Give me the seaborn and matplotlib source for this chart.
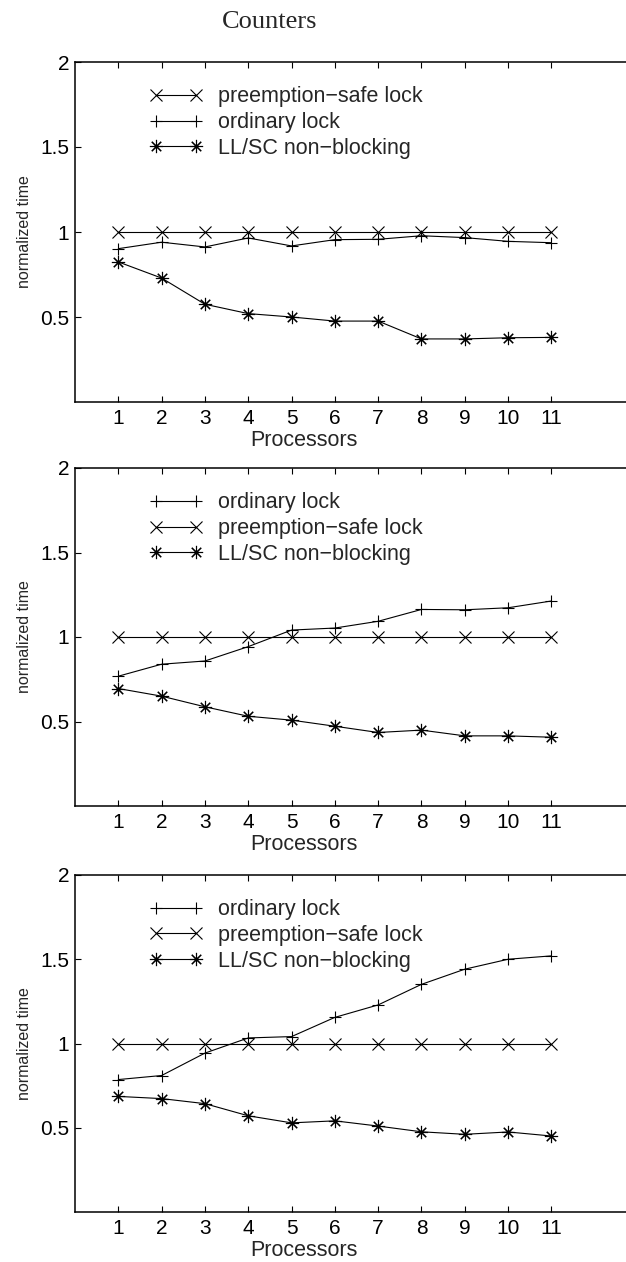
import matplotlib
matplotlib.use("Agg")
import matplotlib.pyplot as plt
import seaborn as sns

processors = [1, 2, 3, 4, 5, 6, 7, 8, 9, 10, 11]

# Panel 1
p1_preempt = [1.0, 1.0, 1.0, 1.0, 1.0, 1.0, 1.0, 1.0, 1.0, 1.0, 1.0]
p1_ordinary = [0.902, 0.940, 0.912, 0.965, 0.918, 0.955, 0.957, 0.978, 0.967, 0.945, 0.937]
p1_llsc = [0.824, 0.729, 0.575, 0.520, 0.500, 0.476, 0.476, 0.371, 0.371, 0.378, 0.380]

# Panel 2
p2_ordinary = [0.768, 0.839, 0.858, 0.943, 1.041, 1.053, 1.093, 1.163, 1.161, 1.173, 1.213]
p2_preempt = [1.0, 1.0, 1.0, 1.0, 1.0, 1.0, 1.0, 1.0, 1.0, 1.0, 1.0]
p2_llsc = [0.695, 0.650, 0.587, 0.531, 0.508, 0.472, 0.435, 0.449, 0.415, 0.415, 0.407]

# Panel 3
p3_ordinary = [0.786, 0.810, 0.943, 1.033, 1.041, 1.155, 1.229, 1.351, 1.441, 1.500, 1.520]
p3_preempt = [1.0, 1.0, 1.0, 1.0, 1.0, 1.0, 1.0, 1.0, 1.0, 1.0, 1.0]
p3_llsc = [0.686, 0.673, 0.643, 0.571, 0.529, 0.541, 0.510, 0.476, 0.461, 0.475, 0.451]

yticks = [0.5, 1, 1.5, 2]
ytick_labels = ["0.5", "1", "1.5", "2"]

title = "Counters"
xlabel = "Processors"
ylabel = "normalized time"

LBL_PRE = "preemption\u2212safe lock"
LBL_ORD = "ordinary lock"
LBL_LL = "LL/SC non\u2212blocking"

ASTER = (8, 2, 0)

panels = [
    [(LBL_PRE, p1_preempt, "x"), (LBL_ORD, p1_ordinary, "+"), (LBL_LL, p1_llsc, ASTER)],
    [(LBL_ORD, p2_ordinary, "+"), (LBL_PRE, p2_preempt, "x"), (LBL_LL, p2_llsc, ASTER)],
    [(LBL_ORD, p3_ordinary, "+"), (LBL_PRE, p3_preempt, "x"), (LBL_LL, p3_llsc, ASTER)],
]

sns.set_style("ticks")
plt.rcParams["font.family"] = ["Liberation Sans", "DejaVu Sans"]

W, H = 626, 1262
fig = plt.figure(figsize=(W / 100, H / 100), dpi=100)

# (top px, bottom px) of each axes
boxes = [(62, 402), (468, 806), (875, 1212)]
left_px = 75
width_px = 563

for (top, bot), series in zip(boxes, panels):
    ax = fig.add_axes([left_px / W, 1 - bot / H, width_px / W, (bot - top) / H])
    for label, vals, mk in series:
        ms = 9.5 if mk == ASTER else 8
        sns.lineplot(x=processors, y=vals, ax=ax, color="black", linewidth=0.8,
                     marker=mk, markersize=ms, markeredgecolor="black",
                     markerfacecolor="none", markeredgewidth=0.8, label=label)
    ax.set_xlim(0, 13)
    ax.set_ylim(0, 2)
    ax.set_xticks(processors)
    ax.set_xticklabels([str(p) for p in processors])
    ax.set_yticks(yticks)
    ax.set_yticklabels(ytick_labels)
    ax.tick_params(direction="in", length=4, width=0.8, labelsize=15,
                   top=True, right=False, colors="black")
    ax.tick_params(axis="x", pad=5)
    ax.tick_params(axis="y", pad=4)
    for name, s in ax.spines.items():
        s.set_visible(name != "right")
        s.set_linewidth(1.1)
        s.set_color("black")
    ax.set_xlabel(xlabel, fontsize=15.5)
    ax.xaxis.set_label_coords((304 - left_px) / width_px, -0.082)
    ax.set_ylabel(ylabel, fontsize=11.5)
    ax.yaxis.set_label_coords(-0.076, 0.5)
    leg = ax.legend(loc="upper left", bbox_to_anchor=(0.133, 0.928), frameon=False,
                    numpoints=2, handlelength=2.45, handletextpad=0.7,
                    labelspacing=0.22, fontsize=15.5, borderpad=0, borderaxespad=0)

fig.text(270 / W, 1 - 22 / H, title, ha="center", va="center",
         fontsize=19, family=["Liberation Serif", "DejaVu Serif"])

fig.savefig("out.png", dpi=100)
